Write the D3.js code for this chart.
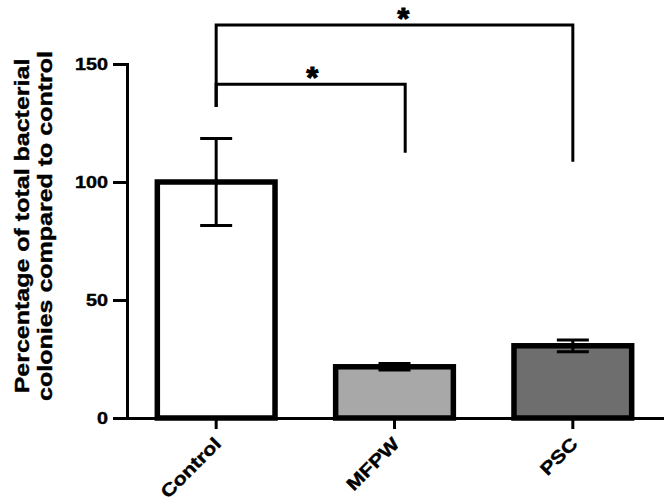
<!DOCTYPE html>
<html>
<head>
<meta charset="utf-8">
<script src="https://cdn.jsdelivr.net/npm/d3@7"></script>
<style>
  body { margin: 0; background: #fff; }
  text { font-family: "Liberation Sans", Arial, sans-serif; font-weight: bold; fill: #000; stroke: #000; stroke-width: 0.4px; }
</style>
</head>
<body>
<div class="chart"></div>
<script>
// data
var categories = ["Control", "MFPW", "PSC"];
var means = [100, 21.7, 30.6];
var errors = [18.4, 1.4, 2.5];
var yTicks = [0, 50, 100, 150];
var yLabel = ["Percentage of total bacterial", "colonies compared to control"];

// significance brackets, x given as category index, y in % units
var bracketFrom = [0, 0];
var bracketTo = [1.06, 2];
var bracketTop = [141.4, 166.5];
var bracketLeftEnd = [131.8, 131.8];
var bracketRightEnd = [112.4, 108.6];
var bracketStarAt = [0.54, 1.05];
var bracketMark = ["*", "*"];

var width = 664, height = 504;

var svg = d3.select("div.chart")
    .append("svg")
    .attr("width", width)
    .attr("height", height);

// scales
var x = d3.scaleBand()
    .domain(categories)
    .range([127, 662])
    .paddingInner(0.34)
    .paddingOuter(0.17);

var y = d3.scaleLinear()
    .domain([0, 150])
    .range([418, 64]);

// category index -> bar centre (for brackets)
var xi = d3.scaleLinear()
    .domain([0, categories.length - 1])
    .range([x(categories[0]) + x.bandwidth() / 2, x(categories[categories.length - 1]) + x.bandwidth() / 2]);

var fill = d3.scaleOrdinal()
    .domain(categories)
    .range(["#ffffff", "#a8a8a8", "#6e6e6e"]);

var bars = categories.map(function (c, i) {
    return {cat: c, mean: means[i], err: errors[i]};
});

// bars
svg.selectAll("rect.bar")
    .data(bars)
    .enter().append("rect")
    .attr("class", "bar")
    .attr("x", function (d) { return x(d.cat); })
    .attr("width", x.bandwidth())
    .attr("y", function (d) { return y(d.mean); })
    .attr("height", function (d) { return y(0) - y(d.mean); })
    .style("fill", function (d) { return fill(d.cat); })
    .style("stroke", "#000")
    .style("stroke-width", 5.5);

// error bars
var capHalf = 16;
var err = svg.selectAll("g.err")
    .data(bars)
    .enter().append("g")
    .attr("class", "err")
    .attr("transform", function (d) { return "translate(" + (x(d.cat) + x.bandwidth() / 2) + ",0)"; })
    .style("stroke", "#000")
    .style("stroke-width", 3);

err.append("line")
    .attr("y1", function (d) { return y(d.mean + d.err); })
    .attr("y2", function (d) { return y(d.mean - d.err); });
err.append("line")
    .attr("x1", -capHalf).attr("x2", capHalf)
    .attr("y1", function (d) { return y(d.mean + d.err); })
    .attr("y2", function (d) { return y(d.mean + d.err); });
err.append("line")
    .attr("x1", -capHalf).attr("x2", capHalf)
    .attr("y1", function (d) { return y(d.mean - d.err); })
    .attr("y2", function (d) { return y(d.mean - d.err); });

// axes
var yAxis = svg.append("g")
    .attr("class", "axis axis--y")
    .attr("transform", "translate(127,0)")
    .call(d3.axisLeft(y).tickValues(yTicks).tickSize(14).tickSizeOuter(0).tickPadding(5));

var xAxis = svg.append("g")
    .attr("class", "axis axis--x")
    .attr("transform", "translate(0," + y(0) + ")")
    .call(d3.axisBottom(x).tickSize(11).tickSizeOuter(0));

svg.selectAll(".axis path, .axis line")
    .style("stroke", "#000")
    .style("stroke-width", 3);
svg.selectAll(".axis path").style("stroke-linecap", "square");

yAxis.selectAll("text")
    .style("font-size", "16.5px")
    .attr("dy", "0.36em")
    .attr("transform", function () {
        var xx = +d3.select(this).attr("x");
        return "translate(" + xx + ",0) scale(1.2,1) translate(" + (-xx) + ",0)";
    });

xAxis.selectAll("text")
    .style("font-size", "18px")
    .style("text-anchor", "end")
    .attr("x", null).attr("y", null).attr("dy", null)
    .attr("transform", "translate(6,27) rotate(-45) scale(1.2,1)");

// y label
var lab = svg.append("g")
    .attr("transform", "translate(0,226) rotate(-90)");
lab.selectAll("text")
    .data(yLabel)
    .enter().append("text")
    .attr("transform", function (d, i) { return "translate(0," + (29 + i * 23) + ") scale(1.19,1)"; })
    .style("text-anchor", "middle")
    .style("font-size", "21px")
    .text(function (d) { return d; });

// significance brackets
var brackets = bracketFrom.map(function (f, i) {
    return {from: f, to: bracketTo[i], top: bracketTop[i], l: bracketLeftEnd[i],
            r: bracketRightEnd[i], star: bracketStarAt[i], mark: bracketMark[i]};
});

svg.selectAll("path.bracket")
    .data(brackets)
    .enter().append("path")
    .attr("class", "bracket")
    .attr("d", function (d) {
        return "M" + xi(d.from) + "," + y(d.l) +
            "V" + y(d.top) + "H" + xi(d.to) + "V" + y(d.r);
    })
    .style("fill", "none")
    .style("stroke", "#000")
    .style("stroke-width", 3);

svg.selectAll("text.star")
    .data(brackets)
    .enter().append("text")
    .attr("class", "star")
    .attr("x", function (d) { return xi(d.star); })
    .attr("y", function (d) { return y(d.top) + 3; })
    .style("text-anchor", "middle")
    .style("font-size", "30px")
    .style("stroke-width", "1.2px")
    .text(function (d) { return d.mark; });
</script>
</body>
</html>
